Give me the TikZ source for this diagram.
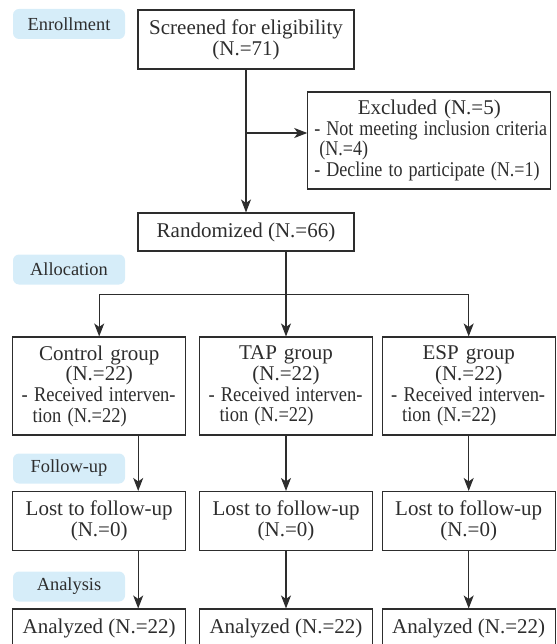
\documentclass[tikz,border=0pt]{standalone}
\usepackage{fontspec}
\usepackage{graphicx}
\setmainfont{Liberation Serif}
\usetikzlibrary{arrows.meta}
\definecolor{stagefill}{RGB}{214,237,249}
\definecolor{linegray}{RGB}{45,45,45}
\newcommand{\narrowline}[2][0.88]{\scalebox{#1}[1]{#2}}

\begin{document}
\begin{tikzpicture}[x=1pt, y=-1pt,
    every node/.style={font=\fontsize{21}{20.7}\selectfont, text=linegray},
    box/.style={draw=linegray, line width=1.1pt, inner sep=0pt, align=center, minimum width=173pt},
    groupbox/.style={box, minimum height=98pt, text width=155pt, inner xsep=9pt, align=left},
    stage/.style={fill=stagefill, rounded corners=6pt, minimum width=112pt, minimum height=30pt,
        inner sep=0pt, font=\fontsize{18.4}{20}\selectfont},
    arr/.style={draw=linegray, line width=1.2pt, -{Stealth[length=13pt, width=10pt, inset=3.5pt]}},
  ]
\useasboundingbox (0,0) rectangle (556,644);
\clip (0,0) rectangle (556,644);

% stage labels
\node[stage] (enrol) at (69,24) {Enrollment};
\node[stage] (alloc) at (69,269.5) {Allocation};
\node[stage] (follow) at (69,468.5) {Follow-up};
\node[stage] (analys) at (69,586.5) {Analysis};

% enrollment
\node[box, minimum width=216pt, minimum height=59pt] (screen) at (246,39.5) {Screened for eligibility\\(N.=71)};
\node[box, minimum width=243pt, minimum height=97pt, text width=234pt, inner xsep=4.5pt, align=left] (excl) at (429.3,140.5)
    {\centering Excluded (N.=5)\par\raggedright
     \hspace*{2pt}\narrowline[0.86]{- Not meeting inclusion criteria}\\
     \hspace*{7pt}\narrowline[0.86]{(N.=4)}\\
     \hspace*{2pt}\narrowline[0.86]{- Decline to participate (N.=1)}};
\node[box, minimum width=216pt, minimum height=38pt] (rand) at (246,232) {Randomized (N.=66)};

\coordinate (branch) at (screen.south |- 0,133);
\draw[arr] (screen.south) -- (rand.north);
\draw[arr] (branch) -- (branch -| excl.west);

% groups
\foreach \name/\x/\grp in {ctrl/99.2/Control, tap/286/TAP, esp/468.7/ESP} {
  \node[groupbox] (\name) at (\x,386)
    {\centering \grp\ group\\(N.=22)\par\raggedright
     \narrowline{- Received interven-}\\
     \hspace*{11pt}\narrowline{tion (N.=22)}};
  \node[box, minimum height=59pt] (lost-\name) at (\x,521) {Lost to follow-up\\(N.=0)};
  \node[box, minimum height=38pt] (anal-\name) at (\x,628) {Analyzed (N.=22)};
}

\coordinate (split) at (tap.north |- 0,294.3);
\draw[arr] (rand.south -| tap.north) -- (tap.north);
\draw[arr] (split) -| (ctrl.north);
\draw[arr] (split) -| (esp.north);

\foreach \name/\dx in {ctrl/39, tap/0, esp/0} {
  \draw[arr] ([xshift=\dx]\name.south) -- ([xshift=\dx]lost-\name.north);
  \draw[arr] ([xshift=\dx]lost-\name.south) -- ([xshift=\dx]anal-\name.north);
}

\end{tikzpicture}
\end{document}
